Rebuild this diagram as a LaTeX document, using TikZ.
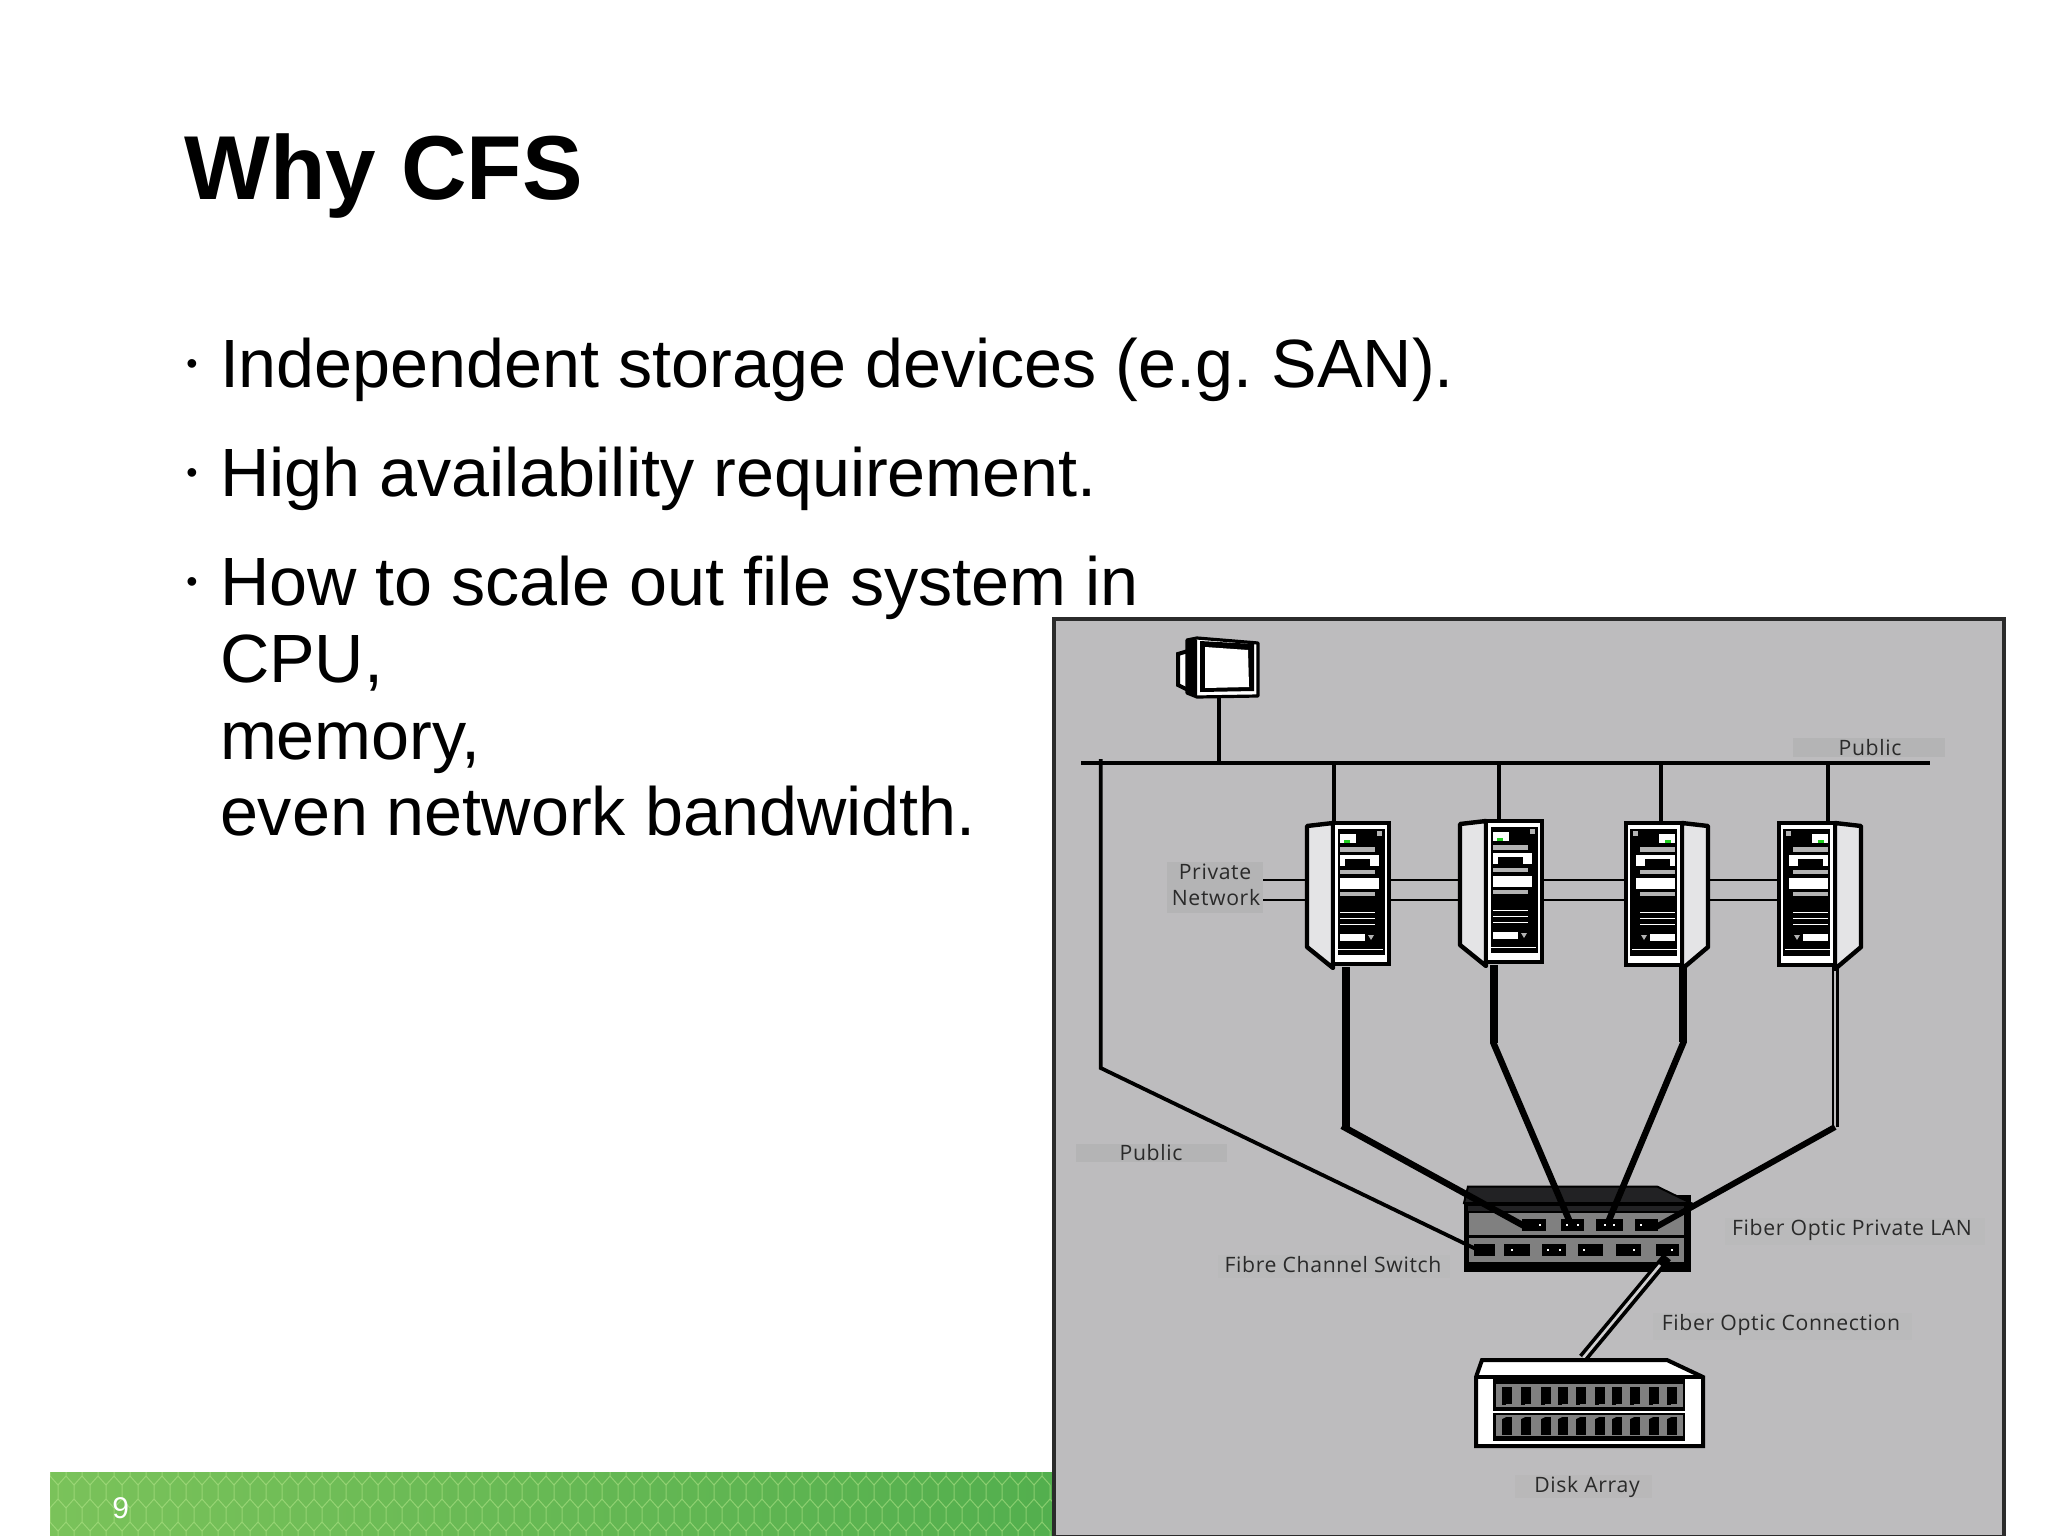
\documentclass[tikz,border=0pt]{standalone}
\usepackage{fontspec}
\setmainfont{Liberation Sans}
\newfontfamily\lblfont[LetterSpace=3]{Open Sans}
\usetikzlibrary{calc}
\definecolor{panelgray}{HTML}{BDBCBE}
\definecolor{backgray}{HTML}{B4B4B5}
\definecolor{framegray}{HTML}{2B2B2B}
\definecolor{barleft}{HTML}{7AC25A}
\definecolor{barright}{HTML}{53AF4E}
\definecolor{hexline}{HTML}{B4E68A}
\definecolor{labelcolor}{HTML}{2A2A2A}
\definecolor{sidewhite}{HTML}{E4E4E6}
\definecolor{slotgray}{HTML}{808080}
\definecolor{topdark}{HTML}{222224}
\definecolor{ledgreen}{HTML}{20D020}
\tikzset{
  x=0.5pt,y=-0.5pt,
  txt/.style={inner sep=0pt,outer sep=0pt,text=black,anchor=base west,font=\fontsize{34.15}{38.3}\selectfont},
  lbl/.style={inner sep=0pt,outer sep=0pt,text=labelcolor,anchor=base,font=\lblfont\fontsize{10.6}{14}\selectfont},
  anchorbox/.style={inner sep=0pt,outer sep=0pt,rectangle},
  pubwire/.style={draw=black,line width=1.9pt,line cap=butt},
  priv/.style={draw=black,line width=1.2pt},
  fibre/.style={draw=black,line width=3.8pt,line join=miter},
  fibreslope/.style={draw=black,line width=3.2pt},
}
% #1 x origin at panel-side edge of the front, #2 y top, #3 mirror, #4 height
\newcommand{\rackdetail}[4]{%
\begin{scope}[shift={(#1,#2)},xscale=#3]
  \filldraw[fill=sidewhite,draw=black,line width=2.2pt,line join=round] (0,0) -- (-26,3) -- (-26,124) -- (0,#4+4) -- cycle;
  \filldraw[fill=white,draw=black,line width=2.2pt] (0,0) rectangle (56,#4);
  \fill[black] (5,6) rectangle (52,#4-9);
  \fill[white] (7,11) rectangle (23,20);
  \fill[ledgreen] (11,17) rectangle (17,20);
  \fill[slotgray!60] (7,24) rectangle (42,29);
  \fill[white] (7,32) rectangle (46,43);
  \fill[black] (12,36) rectangle (37,43);
  \fill[slotgray!60] (7,47) rectangle (42,51);
  \fill[white] (7,55) rectangle (46,66);
  \fill[slotgray!60] (7,69) rectangle (42,73);
  \fill[white] (7,88.5) rectangle (42,90);
  \fill[white] (7,94.5) rectangle (42,96);
  \fill[white] (7,100.5) rectangle (42,102);
  \fill[white] (7,111) rectangle (32,118);
  \fill[slotgray!60] (35,112) -- (41,112) -- (38,117) -- cycle;
  \fill[slotgray!60] (44,8) rectangle (49,13);
  \fill[white] (5,125.5) rectangle (50,127);
\end{scope}}
\begin{document}
\begin{tikzpicture}
\frenchspacing
\useasboundingbox (0,0) rectangle (2048,1535);
\fill[white] (0,0) rectangle (2048,1535);

% footer bar
\shade[left color=barleft,right color=barright] (50,1472) rectangle (1052,1535);
\begin{scope}
  \clip (50,1472) rectangle (1052,1535);
  \foreach \row in {0,1,2,3}{
    \foreach \col in {0,...,62}{
      \pgfmathsetmacro{\xx}{50+16*\col+8*mod(\row,2)}
      \pgfmathsetmacro{\yy}{1462+23*\row}
      \draw[hexline,opacity=.55,line width=.5pt]
        (\xx,\yy) -- (\xx,\yy+14) -- (\xx+8,\yy+23) (\xx,\yy+14) -- (\xx-8,\yy+23);
    }
  }
\end{scope}
\node[inner sep=0pt,anchor=base west,text=white,font=\fontsize{15}{18}\selectfont] (pageno) at (112,1518) {9};

% text
\node[inner sep=0pt,anchor=base west,font=\bfseries\fontsize{45.4}{54}\selectfont] (title) at (184,200) {Why CFS};
\node[txt] (b1) at (220,387) {Independent storage devices (e.g. SAN).};
\node[txt] (b2) at (220,496) {High availability requirement.};
\node[txt] (b3) at (220,605) {How to scale out file system in};
\node[txt] (b3a) at (220,682) {CPU,};
\node[txt] (b3b) at (220,759) {memory,};
\node[txt] (b3c) at (220,835) {even network bandwidth.};
\foreach \nm/\yy in {d1/388,d2/497,d3/606}{
  \node[inner sep=0pt,anchor=base west,font=\fontsize{16}{18}\selectfont] (\nm) at (186,\yy-14) {•};
}

% panel
\filldraw[fill=panelgray,draw=framegray,line width=2pt] (1053.5,619) rectangle (2003.5,1537);
\useasboundingbox (0,0) rectangle (2048,1535);

% label backdrops and labels
\fill[backgray] (1793,738) rectangle (1945,757);
\fill[backgray] (1076,1144) rectangle (1227,1162);
\fill[backgray] (1167,862) rectangle (1263,913);
\fill[backgray!30!panelgray] (1218,1255) rectangle (1450,1278);
\fill[backgray!30!panelgray] (1725,1218) rectangle (1985,1245);
\fill[backgray!30!panelgray] (1653,1313) rectangle (1912,1340);
\fill[backgray!50!panelgray] (1515,1475) rectangle (1652,1498);
\node[lbl] (lpub1) at (1870,755) {Public};
\node[lbl] (lpub2) at (1151,1160) {Public};
\node[lbl] (lpriv) at (1215,879) {Private};
\node[lbl] (lnet) at (1216,905) {Network};
\node[lbl] (lfcs) at (1333,1272) {Fibre Channel Switch};
\node[lbl] (lfol) at (1852,1235) {Fiber Optic Private LAN};
\node[lbl] (lfoc) at (1781,1330) {Fiber Optic Connection};
\node[lbl] (lda) at (1587,1492) {Disk Array};

% invisible anchors
\node[anchorbox,minimum width=41pt,minimum height=72pt] (s1) at (1348,895) {};
\node[anchorbox,minimum width=40.5pt,minimum height=72pt] (s2) at (1501.5,893) {};
\node[anchorbox,minimum width=41.5pt,minimum height=72pt] (s3) at (1665.5,895) {};
\node[anchorbox,minimum width=41pt,minimum height=72pt] (s4) at (1819,895) {};
\node[anchorbox,minimum width=36pt,minimum height=30pt] (mon) at (1223,668) {};
\node[anchorbox,minimum width=113.5pt,minimum height=43pt] (sw) at (1577.5,1229) {};
\node[anchorbox,minimum width=114.5pt,minimum height=44pt] (da) at (1589.5,1403) {};
\coordinate (rowa) at (0,880);
\coordinate (rowb) at (0,900);
\coordinate (pnet) at (1263,880);
\coordinate (busl) at (1081,763);
\coordinate (busr) at (1930,763);
\coordinate (busm) at (1219,763);
\coordinate (bus1) at (1334,763);
\coordinate (bus2) at (1499,763);
\coordinate (bus3) at (1661,763);
\coordinate (bus4) at (1828,763);

% public network
\draw[pubwire] (busl) -- (busr);
\draw[pubwire] (busm) -- (busm |- mon.south);
\draw[pubwire] (bus1) -- (bus1 |- s1.north);
\draw[pubwire] (bus2) -- (bus2 |- s2.north);
\draw[pubwire] (bus3) -- (bus3 |- s3.north);
\draw[pubwire] (bus4) -- (bus4 |- s4.north);

% private network
\foreach \r in {rowa,rowb}{
  \draw[priv] (pnet |- \r) -- (s1.west |- \r);
  \draw[priv] (s1.east |- \r) -- (s2.west |- \r);
  \draw[priv] (s2.east |- \r) -- (s3.west |- \r);
  \draw[priv] (s3.east |- \r) -- (s4.west |- \r);
}

% monitor
\filldraw[fill=white,draw=black,line width=2pt] (1178,654) -- (1188,651) -- (1188,690) -- (1178,685) -- cycle;
\filldraw[fill=white,draw=black,line width=1.6pt,line join=round] (1187,640) -- (1197,638) -- (1258,643) -- (1258,696) -- (1197,697) -- (1187,693) -- cycle;
\fill[black] (1188,640) -- (1197,640) -- (1197,696) -- (1188,693) -- cycle;
\fill[black] (1200,641) -- (1254,644) -- (1254,691) -- (1200,692) -- cycle;
\fill[white] (1205,647) -- (1248,650) -- (1249,687) -- (1205,688) -- cycle;

% racks
\rackdetail{1333}{823}{1}{141}
\rackdetail{1486}{821}{1}{141}
\rackdetail{1682}{823}{-1}{142}
\rackdetail{1835}{823}{-1}{142}

% switch
\fill[black] (1464,1195) rectangle (1691,1272);
\filldraw[fill=topdark,draw=black,line width=1pt] (1468,1186.5) -- (1657,1186.5) -- (1691,1203) -- (1464,1203) -- cycle;
\fill[topdark] (1468,1206) rectangle (1684,1211);
\fill[slotgray] (1469,1213) rectangle (1684,1235);
\fill[slotgray] (1469,1238) rectangle (1684,1262);
\foreach \xa/\xb in {1522/1546,1561/1584,1596/1623,1635/1658}{
  \fill[black] (\xa,1219) rectangle (\xb,1231);
}
\foreach \xa/\xb in {1474/1495,1504/1530,1542/1566,1578/1603,1616/1641,1656/1679}{
  \fill[black] (\xa,1244) rectangle (\xb,1256);
}
\foreach \px/\py in {1540/1225,1567/1225,1578/1225,1605/1225,1614/1225,1641/1225,1512/1250,1548/1250,1560/1250,1584/1250,1634/1250,1672/1250}{
  \fill[white] (\px-.7,\py-.7) rectangle (\px+.7,\py+.7);
}

% public link to the switch
\coordinate (pub0) at (1100.7,759);
\coordinate (pub1) at (1100.7,1068);
\coordinate (port0) at (1478,1250);
\draw[pubwire,line join=miter] (pub0) -- (pub1) -- (port0);

% fibre links
\coordinate (f1a) at (1346,1128);
\coordinate (f1p) at (1526,1227);
\coordinate (f2a) at (1494,1043);
\coordinate (f2p) at (1569,1220);
\coordinate (f3a) at (1683,1042);
\coordinate (f3p) at (1609,1220);
\coordinate (f4a) at (1836,1127);
\coordinate (f4p) at (1656,1227);
\draw[fibre] (f1a |- s1.south) -- (f1a);
\draw[fibreslope] ($(f1a)+(-4,-2)$) -- (f1p);
\draw[fibre] (f2a |- s2.south) -- (f2a);
\draw[fibreslope] ($(f2a)+(-1,-1)$) -- (f2p);
\draw[fibre] (f3a |- s3.south) -- (f3a);
\draw[fibreslope] ($(f3a)+(1,-1)$) -- (f3p);
\draw[draw=black,line width=1pt] ($(f4a |- s4.south)+(-3,0)$) -- ($(f4a)+(-3,0)$);
\draw[draw=black,line width=1.8pt] ($(f4a |- s4.south)+(1.5,0)$) -- ($(f4a)+(1.5,0)$);
\draw[draw=black,line width=3pt] ($(f4a)+(-1,0)$) -- (f4p);

% link to disk array
\coordinate (dla) at (1667,1257);
\coordinate (dlb) at (1583,1358);
\draw[draw=black,line width=5pt] (dla) -- (dlb);
\draw[draw=panelgray!70!white,line width=1.3pt] (1660,1265) -- (dlb);

% disk array
\filldraw[fill=white,draw=black,line width=2pt,line join=miter] (1476,1377) -- (1482,1360) -- (1667,1360) -- (1703,1377) -- (1703,1446) -- (1476,1446) -- cycle;
\draw[black,line width=2pt] (1476,1377) -- (1703,1377);
\fill[black] (1493,1377) rectangle (1685,1441);
\fill[slotgray] (1496,1384) rectangle (1683,1407);
\fill[white] (1493,1411) rectangle (1685,1413);
\fill[slotgray] (1496,1415) rectangle (1683,1436);
\foreach \dx in {1502,1521,1541,1558,1576,1595,1612,1630,1649,1667}{
  \fill[black] (\dx,1387) rectangle (\dx+10,1405);
  \fill[black] (\dx,1417) rectangle (\dx+10,1435);
  \fill[slotgray] (\dx+4,1404) rectangle (\dx+10,1405);
  \fill[slotgray] (\dx,1417) -- (\dx+4,1417) -- (\dx,1419) -- cycle;
}
\end{tikzpicture}
\end{document}
